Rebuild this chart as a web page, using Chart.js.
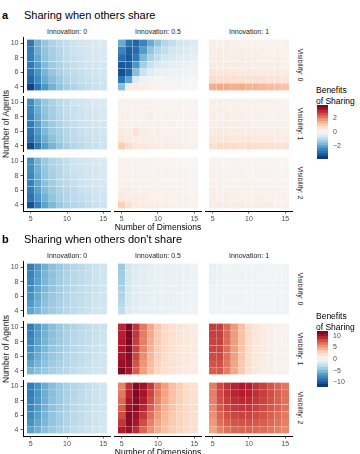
<!DOCTYPE html>
<html>
<head>
<meta charset="utf-8">
<script src="https://cdn.jsdelivr.net/npm/chart.js@4.4.1/dist/chart.umd.min.js"></script>
<style>
body{margin:0;background:#fff;font-family:"Liberation Sans",Arial,Helvetica,sans-serif;}
#fig{position:relative;width:360px;height:454px;overflow:hidden;}
#fig canvas{position:absolute;}
.t{position:absolute;white-space:nowrap;line-height:1;}
</style>
</head>
<body>
<div id="fig"></div>
<script>
const dims = [5,6,7,8,9,10,11,12,13,14,15];
const agents = [4,5,6,7,8,9,10];
const innovation = ["0","0.5","1"];
const visibility = ["0","1","2"];
const xTicks = [5,10,15];
const yTicks = [4,6,8,10];
const legendTicksA = [-2,0,2];
const legendTicksB = [-10,-5,0,5,10];
const limitA = 3.75, limitB = 12;

// panel a: rows are agents 4..10, columns dims 5..15
const aV0I0 = [
  [-3.5,-2.8,-2.2,-1.8,-1.5,-1.3,-1.15,-1.0,-0.9,-0.85,-0.8],
  [-3.0,-2.4,-1.9,-1.6,-1.35,-1.15,-1.0,-0.9,-0.85,-0.8,-0.75],
  [-2.8,-2.2,-1.75,-1.45,-1.2,-1.05,-0.95,-0.85,-0.8,-0.75,-0.7],
  [-2.7,-2.1,-1.65,-1.35,-1.15,-1.0,-0.9,-0.8,-0.75,-0.7,-0.65],
  [-2.6,-1.95,-1.55,-1.3,-1.1,-0.95,-0.85,-0.8,-0.7,-0.65,-0.6],
  [-2.6,-1.85,-1.5,-1.25,-1.05,-0.9,-0.8,-0.75,-0.7,-0.6,-0.6],
  [-2.7,-1.8,-1.45,-1.2,-1.0,-0.9,-0.8,-0.7,-0.65,-0.6,-0.55]];
const aV0I05 = [
  [-1.6,0.35,0.3,0.25,0.2,0.15,0.1,0.1,0.05,0.05,0.0],
  [-2.8,-2.0,-0.5,-0.2,-0.15,-0.1,-0.1,-0.1,-0.1,-0.05,-0.05],
  [-3.3,-3.0,-1.6,-0.8,-0.45,-0.3,-0.25,-0.2,-0.2,-0.15,-0.15],
  [-3.2,-3.1,-2.2,-1.3,-0.85,-0.6,-0.45,-0.35,-0.3,-0.25,-0.2],
  [-2.9,-3.2,-2.7,-1.7,-1.2,-0.9,-0.7,-0.55,-0.45,-0.4,-0.35],
  [-2.5,-3.1,-2.9,-2.1,-1.5,-1.1,-0.9,-0.7,-0.6,-0.5,-0.45],
  [-1.9,-2.8,-3.0,-2.5,-1.9,-1.5,-1.1,-0.9,-0.75,-0.65,-0.55]];
const aV0I1 = [
  [1.35,1.45,1.4,1.35,1.4,1.3,1.3,1.25,1.2,1.15,1.1],
  [0.7,0.65,0.6,0.65,0.6,0.55,0.6,0.55,0.5,0.5,0.45],
  [0.45,0.4,0.45,0.4,0.35,0.4,0.35,0.35,0.3,0.3,0.3],
  [0.35,0.3,0.3,0.35,0.3,0.3,0.25,0.3,0.25,0.25,0.2],
  [0.3,0.3,0.25,0.25,0.3,0.25,0.25,0.2,0.2,0.2,0.2],
  [0.25,0.3,0.25,0.2,0.25,0.2,0.2,0.2,0.15,0.2,0.15],
  [0.25,0.2,0.25,0.2,0.2,0.2,0.15,0.2,0.15,0.15,0.15]];
const aV1I0 = [
  [-3.4,-2.7,-2.1,-1.75,-1.45,-1.25,-1.1,-1.0,-0.9,-0.85,-0.8],
  [-2.9,-2.3,-1.85,-1.55,-1.3,-1.1,-1.0,-0.9,-0.85,-0.8,-0.75],
  [-2.75,-2.15,-1.7,-1.4,-1.2,-1.05,-0.95,-0.85,-0.8,-0.75,-0.7],
  [-2.65,-2.05,-1.6,-1.35,-1.15,-1.0,-0.9,-0.8,-0.75,-0.7,-0.65],
  [-2.55,-1.95,-1.55,-1.3,-1.1,-0.95,-0.85,-0.8,-0.7,-0.65,-0.6],
  [-2.45,-1.85,-1.5,-1.25,-1.05,-0.9,-0.85,-0.75,-0.7,-0.65,-0.6],
  [-2.35,-1.8,-1.45,-1.2,-1.0,-0.9,-0.8,-0.75,-0.65,-0.6,-0.55]];
const aV1I05 = [
  [0.95,0.7,0.45,0.4,0.35,0.3,0.3,0.25,0.25,0.2,0.2],
  [0.4,0.35,0.3,0.25,0.25,0.2,0.2,0.2,0.15,0.15,0.15],
  [0.3,0.25,0.55,0.25,0.2,0.2,0.15,0.15,0.15,0.15,0.1],
  [0.25,0.2,0.2,0.2,0.15,0.2,0.15,0.15,0.1,0.1,0.1],
  [0.2,0.2,0.15,0.2,0.25,0.15,0.15,0.1,0.1,0.1,0.1],
  [0.2,0.15,0.15,0.15,0.15,0.15,0.1,0.1,0.1,0.1,0.1],
  [0.15,0.15,0.15,0.1,0.15,0.1,0.1,0.1,0.1,0.05,0.1]];
const aV1I1 = [
  [0.65,0.75,0.7,0.7,0.65,0.7,0.65,0.6,0.6,0.55,0.55],
  [0.45,0.4,0.45,0.4,0.4,0.4,0.35,0.35,0.35,0.3,0.3],
  [0.3,0.3,0.3,0.3,0.3,0.25,0.3,0.25,0.25,0.25,0.2],
  [0.25,0.25,0.3,0.25,0.25,0.25,0.2,0.2,0.2,0.2,0.2],
  [0.25,0.2,0.25,0.2,0.25,0.2,0.2,0.2,0.15,0.2,0.15],
  [0.2,0.25,0.2,0.2,0.2,0.2,0.15,0.2,0.15,0.15,0.15],
  [0.2,0.2,0.2,0.15,0.2,0.15,0.15,0.15,0.15,0.15,0.1]];
const aV2I0 = [
  [-3.3,-2.6,-2.0,-1.7,-1.4,-1.2,-1.1,-1.0,-0.9,-0.85,-0.8],
  [-2.8,-2.2,-1.8,-1.5,-1.25,-1.1,-1.0,-0.9,-0.85,-0.8,-0.75],
  [-2.65,-2.05,-1.65,-1.4,-1.2,-1.05,-0.95,-0.85,-0.8,-0.75,-0.7],
  [-2.55,-1.95,-1.55,-1.3,-1.1,-1.0,-0.9,-0.8,-0.75,-0.7,-0.65],
  [-2.45,-1.9,-1.5,-1.25,-1.05,-0.95,-0.85,-0.8,-0.7,-0.65,-0.6],
  [-2.35,-1.8,-1.45,-1.2,-1.05,-0.9,-0.8,-0.75,-0.7,-0.65,-0.6],
  [-2.3,-1.75,-1.4,-1.15,-1.0,-0.9,-0.8,-0.7,-0.65,-0.6,-0.55]];
const aV2I05 = [
  [0.9,0.6,0.35,0.3,0.3,0.25,0.25,0.2,0.2,0.2,0.15],
  [0.35,0.3,0.3,0.25,0.2,0.2,0.2,0.15,0.15,0.15,0.1],
  [0.25,0.25,0.2,0.2,0.2,0.15,0.15,0.15,0.1,0.1,0.1],
  [0.2,0.2,0.2,0.15,0.15,0.15,0.1,0.1,0.1,0.1,0.1],
  [0.2,0.15,0.15,0.15,0.15,0.1,0.1,0.1,0.1,0.1,0.05],
  [0.15,0.15,0.15,0.1,0.1,0.1,0.1,0.1,0.05,0.05,0.05],
  [0.15,0.1,0.15,0.1,0.1,0.1,0.05,0.1,0.05,0.05,0.05]];
const aV2I1 = [
  [0.3,0.3,0.3,0.3,0.3,0.25,0.25,0.25,0.25,0.2,0.2],
  [0.25,0.2,0.25,0.2,0.2,0.2,0.2,0.2,0.15,0.15,0.15],
  [0.2,0.2,0.2,0.2,0.15,0.15,0.15,0.15,0.15,0.15,0.1],
  [0.15,0.15,0.15,0.15,0.15,0.15,0.1,0.1,0.1,0.1,0.1],
  [0.15,0.15,0.15,0.1,0.15,0.1,0.1,0.1,0.1,0.1,0.1],
  [0.15,0.1,0.1,0.1,0.1,0.1,0.1,0.1,0.1,0.05,0.05],
  [0.1,0.1,0.1,0.1,0.1,0.1,0.05,0.05,0.05,0.05,0.05]];

// panel b
const bV0I0 = [
  [-6.3,-5.5,-4.8,-4.3,-3.8,-3.4,-3.1,-2.8,-2.6,-2.4,-2.3],
  [-6.8,-5.8,-5.0,-4.4,-3.9,-3.5,-3.2,-2.9,-2.7,-2.5,-2.3],
  [-7.2,-6.1,-5.2,-4.6,-4.0,-3.6,-3.2,-3.0,-2.7,-2.5,-2.4],
  [-7.5,-6.3,-5.4,-4.7,-4.1,-3.7,-3.3,-3.0,-2.8,-2.6,-2.4],
  [-7.8,-6.5,-5.5,-4.8,-4.2,-3.7,-3.4,-3.1,-2.8,-2.6,-2.4],
  [-8.0,-6.7,-5.6,-4.9,-4.3,-3.8,-3.4,-3.1,-2.9,-2.6,-2.5],
  [-8.3,-6.9,-5.8,-5.0,-4.4,-3.9,-3.5,-3.2,-2.9,-2.7,-2.5]];
const bV0I05 = [
  [-3.0,-1.6,-1.2,-1.0,-0.9,-0.8,-0.8,-0.7,-0.7,-0.6,-0.6],
  [-3.4,-1.8,-1.3,-1.1,-1.0,-0.9,-0.8,-0.8,-0.7,-0.7,-0.6],
  [-3.7,-1.9,-1.4,-1.2,-1.0,-0.9,-0.9,-0.8,-0.7,-0.7,-0.7],
  [-3.9,-2.0,-1.5,-1.2,-1.1,-1.0,-0.9,-0.8,-0.8,-0.7,-0.7],
  [-4.1,-2.1,-1.5,-1.3,-1.1,-1.0,-0.9,-0.9,-0.8,-0.7,-0.7],
  [-4.3,-2.2,-1.6,-1.3,-1.1,-1.0,-0.9,-0.9,-0.8,-0.8,-0.7],
  [-4.5,-2.3,-1.6,-1.3,-1.2,-1.0,-1.0,-0.9,-0.8,-0.8,-0.7]];
const bV0I1 = [
  [-0.5,-0.5,-0.45,-0.45,-0.45,-0.4,-0.4,-0.4,-0.4,-0.35,-0.35],
  [-0.6,-0.55,-0.5,-0.5,-0.45,-0.45,-0.45,-0.4,-0.4,-0.4,-0.35],
  [-0.65,-0.6,-0.55,-0.5,-0.5,-0.45,-0.45,-0.45,-0.4,-0.4,-0.4],
  [-0.7,-0.6,-0.55,-0.55,-0.5,-0.5,-0.45,-0.45,-0.45,-0.4,-0.4],
  [-0.75,-0.65,-0.6,-0.55,-0.5,-0.5,-0.5,-0.45,-0.45,-0.4,-0.4],
  [-0.8,-0.65,-0.6,-0.55,-0.55,-0.5,-0.5,-0.45,-0.45,-0.45,-0.4],
  [-0.9,-0.7,-0.6,-0.6,-0.55,-0.5,-0.5,-0.5,-0.45,-0.45,-0.4]];
const bV1I0 = [
  [-5.6,-5.0,-4.5,-4.0,-3.6,-3.3,-3.0,-2.8,-2.6,-2.4,-2.3],
  [-6.4,-5.6,-4.9,-4.3,-3.9,-3.5,-3.2,-2.9,-2.7,-2.5,-2.4],
  [-7.0,-6.0,-5.2,-4.6,-4.1,-3.6,-3.3,-3.0,-2.8,-2.6,-2.4],
  [-7.4,-6.3,-5.4,-4.7,-4.2,-3.7,-3.4,-3.1,-2.8,-2.6,-2.5],
  [-7.8,-6.5,-5.6,-4.9,-4.3,-3.8,-3.4,-3.1,-2.9,-2.7,-2.5],
  [-8.1,-6.7,-5.7,-5.0,-4.4,-3.9,-3.5,-3.2,-2.9,-2.7,-2.5],
  [-8.4,-6.9,-5.9,-5.1,-4.5,-4.0,-3.6,-3.2,-3.0,-2.7,-2.6]];
const bV1I05 = [
  [11.2,10.0,7.2,5.0,3.6,2.6,2.0,1.6,1.3,1.1,1.0],
  [10.4,10.6,7.6,5.3,3.8,2.7,2.1,1.7,1.4,1.2,1.0],
  [10.0,10.9,8.0,5.6,4.0,2.9,2.2,1.7,1.4,1.2,1.0],
  [9.8,11.1,8.2,5.9,4.2,3.0,2.3,1.8,1.5,1.2,1.1],
  [9.6,11.3,8.4,6.1,4.4,3.1,2.4,1.8,1.5,1.3,1.1],
  [9.4,11.4,8.6,6.2,4.6,3.2,2.4,1.9,1.5,1.3,1.1],
  [9.2,11.2,8.6,6.3,4.7,3.3,2.5,1.9,1.6,1.3,1.1]];
const bV1I1 = [
  [7.2,7.4,6.2,4.6,3.1,2.0,1.3,0.9,0.7,0.5,0.4],
  [7.6,7.7,6.4,4.8,3.2,2.0,1.3,0.9,0.7,0.5,0.4],
  [7.9,8.0,6.6,4.9,3.3,2.1,1.4,0.9,0.7,0.5,0.4],
  [8.1,8.1,6.7,5.0,3.4,2.2,1.4,1.0,0.7,0.5,0.4],
  [8.2,8.2,6.8,5.1,3.5,2.2,1.4,1.0,0.7,0.5,0.4],
  [8.3,8.3,6.9,5.1,3.5,2.3,1.5,1.0,0.7,0.5,0.4],
  [8.4,8.3,6.9,5.2,3.6,2.3,1.5,1.0,0.7,0.6,0.4]];
const bV2I0 = [
  [-6.5,-5.8,-5.0,-4.4,-3.9,-3.5,-3.1,-2.8,-2.6,-2.4,-2.2],
  [-7.2,-6.3,-5.4,-4.7,-4.1,-3.6,-3.2,-2.9,-2.7,-2.5,-2.3],
  [-7.6,-6.6,-5.6,-4.8,-4.2,-3.7,-3.3,-3.0,-2.7,-2.5,-2.3],
  [-7.9,-6.8,-5.7,-4.9,-4.3,-3.8,-3.4,-3.0,-2.8,-2.5,-2.4],
  [-8.1,-6.9,-5.8,-5.0,-4.4,-3.8,-3.4,-3.1,-2.8,-2.6,-2.4],
  [-8.3,-7.0,-5.9,-5.1,-4.4,-3.9,-3.5,-3.1,-2.8,-2.6,-2.4],
  [-8.5,-7.2,-6.0,-5.1,-4.5,-3.9,-3.5,-3.2,-2.9,-2.6,-2.4]];
const bV2I05 = [
  [9.6,10.4,9.0,7.0,5.5,4.5,3.6,3.0,2.6,2.3,2.0],
  [8.6,10.8,9.8,7.8,6.0,4.8,3.8,3.1,2.7,2.3,2.0],
  [7.8,10.9,10.4,8.6,6.6,5.1,4.0,3.2,2.7,2.3,2.0],
  [7.2,10.4,10.8,9.2,7.2,5.5,4.3,3.4,2.8,2.4,2.0],
  [6.8,9.8,11.0,9.7,7.7,5.9,4.6,3.5,2.9,2.4,2.0],
  [6.3,9.3,11.2,10.0,8.1,6.2,4.8,3.6,2.9,2.4,2.0],
  [5.9,8.8,11.1,10.2,8.5,6.3,5.0,3.6,2.9,2.3,1.9]];
const bV2I1 = [
  [4.8,6.0,6.6,6.9,7.0,7.0,6.9,6.7,6.4,6.1,5.7],
  [5.2,6.6,7.2,7.5,7.6,7.6,7.4,7.2,6.9,6.5,6.1],
  [5.5,7.0,7.7,8.0,8.2,8.1,7.9,7.6,7.2,6.8,6.3],
  [5.8,7.4,8.1,8.5,8.7,8.6,8.3,7.9,7.5,7.1,6.5],
  [6.0,7.7,8.4,8.9,9.1,9.0,8.6,8.2,7.7,7.2,6.6],
  [6.1,7.9,8.6,9.2,9.5,9.3,8.8,8.3,7.8,7.2,6.6],
  [6.2,8.0,8.7,9.3,9.7,9.4,8.7,8.2,7.6,7.0,6.4]];

const FONT = '"Liberation Sans", Arial, Helvetica, sans-serif';
Chart.defaults.font.family = FONT;

const rdbu = ['#053061','#2166ac','#4393c3','#92c5de','#d1e5f0','#f7f7f7','#fddbc7','#f4a582','#d6604d','#b2182b','#67001f'];
const rgbs = rdbu.map(h => [1,3,5].map(i => parseInt(h.substr(i,2),16)));
function fill(v, lim){
  let t = (v + lim) / (2*lim);
  t = Math.max(0, Math.min(1, t));
  const p = t * (rgbs.length - 1);
  const i = Math.min(Math.floor(p), rgbs.length - 2);
  const f = p - i;
  const c = rgbs[i].map((a,k) => Math.round(a + (rgbs[i+1][k]-a)*f));
  return 'rgb(' + c.join(',') + ')';
}

const fig = document.getElementById('fig');
function addCanvas(left, top, w, h){
  const c = document.createElement('canvas');
  c.width = w; c.height = h;
  c.style.left = left + 'px'; c.style.top = top + 'px';
  c.style.width = w + 'px'; c.style.height = h + 'px';
  fig.appendChild(c);
  return c;
}
function text(str, x, y, o){
  const d = document.createElement('div');
  d.className = 't';
  d.textContent = str;
  d.style.left = x + 'px'; d.style.top = y + 'px';
  d.style.fontSize = (o.size || 7) + 'px';
  d.style.color = o.color || '#000';
  if (o.bold) d.style.fontWeight = 'bold';
  const ax = o.align === 'left' ? '0' : '-50%';
  d.style.transform = 'translate(' + ax + ',-50%)' + (o.rot ? ' rotate(' + o.rot + 'deg)' : '');
  fig.appendChild(d);
}
// keep the chart area exactly where the facet is: no label overflow padding
function noPad(s){ s.paddingTop = 0; s.paddingBottom = 0; s.paddingLeft = 0; s.paddingRight = 0; }

const colLeft = [23,114,205];
const panelW = 88, panelH = 56;

const groups = [
  {letter:'a', title:'Sharing when others share', rows:[37,96,155], lim:limitA, ticks:legendTicksA,
   legendTop:105, legendH:54,
   cells:[[aV0I0,aV0I05,aV0I1],[aV1I0,aV1I05,aV1I1],[aV2I0,aV2I05,aV2I1]]},
  {letter:'b', title:"Sharing when others don't share", rows:[261,321,380], lim:limitB, ticks:legendTicksB,
   legendTop:331, legendH:56,
   cells:[[bV0I0,bV0I05,bV0I1],[bV1I0,bV1I05,bV1I1],[bV2I0,bV2I05,bV2I1]]}
];

function tickFmt(v){ return v < 0 ? '\u2212' + Math.abs(v) : String(v); }

function makePanel(g, r, c){
  const showY = c === 0, showX = r === 2;
  const left = showY ? 0 : colLeft[c];
  const w = showY ? colLeft[c] + panelW : panelW;
  const h = panelH + (showX ? 16 : 0);
  const cv = addCanvas(left, g.rows[r], w, h);
  const grid = g.cells[r][c];
  const pts = [];
  agents.forEach((a,i) => dims.forEach((d,j) => pts.push({x:d, y:[a-0.5, a+0.5], v:grid[i][j]})));
  new Chart(cv, {
    type:'bar',
    data:{datasets:[{
      data:pts,
      backgroundColor: ctx => ctx.raw ? fill(ctx.raw.v, g.lim) : '#fff',
      borderColor:'rgba(255,255,255,0.28)', borderWidth:0.35, borderSkipped:false,
      barPercentage:1, categoryPercentage:1
    }]},
    options:{
      responsive:false, animation:false, devicePixelRatio:1,
      layout:{padding:0, autoPadding:false},
      plugins:{legend:{display:false}, tooltip:{enabled:false}},
      scales:{
        x:{type:'linear', min:3.95, max:16.05, offset:false, display:showX,
           afterBuildTicks: s => { s.ticks = xTicks.map(v => ({value:v})); },
           afterFit: s => { s.height = showX ? 16 : 0; noPad(s); },
           grid:{drawOnChartArea:false, offset:false, tickLength:2.5, color:'#333', lineWidth:0.8},
           border:{display:true, color:'#000', width:1},
           ticks:{color:'#4d4d4d', font:{size:7}, padding:1, maxRotation:0, autoSkip:false}},
        y:{type:'linear', min:3.15, max:10.85, display:showY,
           afterBuildTicks: s => { s.ticks = yTicks.map(v => ({value:v})); },
           afterFit: s => { s.width = showY ? colLeft[0] : 0; noPad(s); },
           grid:{drawOnChartArea:false, tickLength:2.5, color:'#333', lineWidth:0.8},
           border:{display:true, color:'#000', width:1},
           ticks:{color:'#4d4d4d', font:{size:7}, padding:2, autoSkip:false}}
      }
    }
  });
}

function makeLegend(g){
  const bins = 20, step = 2*g.lim/bins;
  const sets = [];
  for (let k = 0; k < bins; k++){
    const lo = -g.lim + k*step;
    sets.push({data:[[lo, lo+step]], backgroundColor:fill(lo+step/2, g.lim), borderWidth:0,
               grouped:false, barPercentage:1, categoryPercentage:1});
  }
  const cv = addCanvas(317, g.legendTop, 40, g.legendH);
  new Chart(cv, {
    type:'bar',
    data:{labels:[''], datasets:sets},
    options:{
      responsive:false, animation:false, devicePixelRatio:1,
      layout:{padding:0, autoPadding:false},
      plugins:{legend:{display:false}, tooltip:{enabled:false}},
      scales:{
        x:{display:false, afterFit: s => { s.height = 0; noPad(s); }},
        y:{position:'right', min:-g.lim, max:g.lim,
           afterBuildTicks: s => { s.ticks = g.ticks.map(v => ({value:v})); },
           afterFit: s => { s.width = 29; noPad(s); },
           grid:{display:false, drawTicks:false, tickLength:0}, border:{display:false},
           ticks:{color:'#4d4d4d', font:{size:7}, padding:5, autoSkip:false, callback:tickFmt}}
      }
    }
  });
}

groups.forEach(g => {
  const top = g.rows[0];
  text(g.letter, 2, top - 22, {size:11, bold:true, align:'left'});
  text(g.title, 24, top - 22, {size:11, align:'left'});
  innovation.forEach((lab, c) => text('Innovation: ' + lab, colLeft[c] + panelW/2, top - 6.5, {size:7, color:'#1a1a1a'}));
  visibility.forEach((lab, r) => text('Visibility: ' + lab, 300, g.rows[r] + panelH/2, {size:7, color:'#1a1a1a', rot:90}));
  for (let r = 0; r < 3; r++) for (let c = 0; c < 3; c++) makePanel(g, r, c);
  const bottom = g.rows[2] + panelH;
  text('Number of Agents', 6, (top + bottom)/2, {size:8.5, rot:-90});
  text('Number of Dimensions', 158, bottom + 15.5, {size:8.5});
  text('Benefits', 316, g.legendTop - 15, {size:8.5, align:'left'});
  text('of Sharing', 316, g.legendTop - 4, {size:8.5, align:'left'});
  makeLegend(g);
});
</script>
</body>
</html>
